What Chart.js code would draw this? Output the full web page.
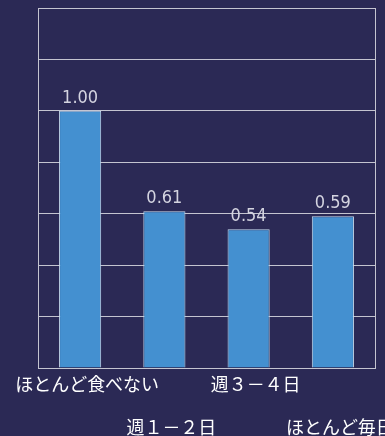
<!DOCTYPE html>
<html>
<head>
<meta charset="utf-8">
<script src="https://cdn.jsdelivr.net/npm/chart.js@4"></script>
<style>
  html, body { margin: 0; padding: 0; background: #2b2955; }
  #wrap { width: 385px; height: 436px; position: relative; }
</style>
</head>
<body>
<div id="wrap"><canvas id="chart"></canvas></div>
<script>
const categories = ['ほとんど食べない', '週１－２日', '週３－４日', 'ほとんど毎日'];
const values = [1.00, 0.61, 0.54, 0.59];
const yTicks = [0, 0.2, 0.4, 0.6, 0.8, 1.0, 1.2, 1.4];

// every other label goes on the lower row
const staggered = categories.map((c, i) => i % 2 === 0 ? [c] : ['', '', c]);

const gridColor = '#c4c4d0';

const valueLabels = {
    id: 'valueLabels',
    afterDatasetsDraw(chart) {
        const ctx = chart.ctx;
        const meta = chart.getDatasetMeta(0);
        ctx.save();
        ctx.font = '18px "DejaVu Sans Condensed", "Liberation Sans", sans-serif';
        ctx.fillStyle = '#d4d4e0';
        ctx.textAlign = 'center';
        ctx.textBaseline = 'alphabetic';
        meta.data.forEach((bar, i) => {
            ctx.fillText(values[i].toFixed(2), bar.x, bar.y - 8);
        });
        ctx.restore();
    }
};

new Chart(document.getElementById('chart'), {
    type: 'bar',
    data: {
        labels: staggered,
        datasets: [{
            data: values,
            backgroundColor: '#4490d0',
            borderColor: '#c8dcee',
            borderWidth: 1,
            barPercentage: 0.5,
            categoryPercentage: 1.0
        }]
    },
    options: {
        responsive: true,
        maintainAspectRatio: false,
        animation: false,
        layout: { padding: { left: 38, right: 10, top: 8, bottom: 0 } },
        plugins: {
            legend: { display: false },
            tooltip: { enabled: false }
        },
        scales: {
            x: {
                grid: { display: false, drawTicks: false },
                border: { display: true, color: gridColor },
                ticks: {
                    color: '#ffffff',
                    maxRotation: 0,
                    autoSkip: false,
                    padding: 5,
                    labelOffset: 7,
                    font: { family: '"Noto Sans CJK JP", sans-serif', size: 18, lineHeight: '21.5px' }
                },
                afterFit(scale) {
                    scale.paddingLeft = 0;
                    scale.paddingRight = 0;
                    scale.height = 68;
                }
            },
            y: {
                min: 0,
                max: 1.4,
                afterBuildTicks(scale) {
                    scale.ticks = yTicks.map(v => ({ value: v }));
                },
                ticks: { display: false },
                grid: { color: gridColor, drawTicks: false, lineWidth: 1 },
                border: { display: true, color: gridColor }
            },
            y2: {
                position: 'right',
                min: 0,
                max: 1.4,
                ticks: { display: false },
                grid: { display: false, drawTicks: false },
                border: { display: true, color: gridColor }
            }
        }
    },
    plugins: [valueLabels]
});
</script>
</body>
</html>
